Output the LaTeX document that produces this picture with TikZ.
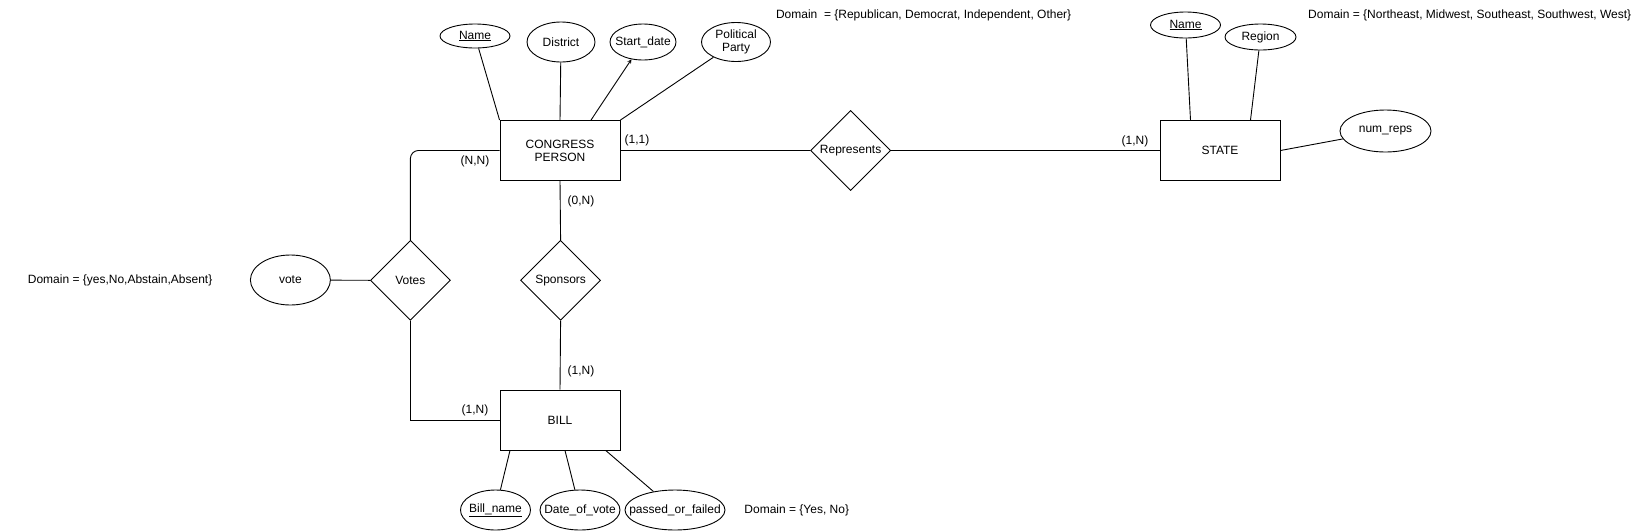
\documentclass[tikz,border=0pt]{standalone}
\usepackage{fontspec}
\setmainfont{Liberation Sans}
\usepackage{tikz}
\usetikzlibrary{shapes.geometric}

\begin{document}
\begin{tikzpicture}[x=1pt, y=-1pt, line width=0.9pt, font=\fontsize{12}{13}\selectfont,
        entity/.style={draw, rectangle, minimum width=120pt, minimum height=60pt, align=center},
        attr/.style 2 args={draw, ellipse, inner ysep=0pt, inner xsep=-11pt, align=center, minimum width=#1, minimum height=#2},
        relation/.style={draw, diamond, aspect=1, inner sep=0pt, minimum width=80pt, minimum height=80pt},
        card/.style={inner sep=0pt},
        note/.style={inner sep=0pt}]

            \useasboundingbox (0,0) rectangle (1636,531);

            \node[entity] (cp) at (560,150.5) {CONGRESS\\PERSON};

            \node[entity] (state) at (1220,150.5) {STATE};

            \node[entity] (bill) at (560,420) {BILL};

            \node[relation] (represents) at (850.6,150.5) {Represents};

            \node[relation] (votes) at (410.4,280.3) {Votes};

            \node[relation] (sponsors) at (560.6,280.3) {Sponsors};

            \node[attr={70pt}{24pt}] (cpname) at (475,36) {\underline{Name}};

            \node[attr={68pt}{40pt}] (district) at (561,42) {District};

            \node[attr={66pt}{36pt}] (startdate) at (643,42) {Start\_date};

            \node[attr={69pt}{39pt}] (party) at (736,42) {Political\\Party};

            \node[attr={70pt}{26pt}] (statename) at (1185.5,25) {\underline{Name}};

            \node[attr={71pt}{26pt}] (region) at (1260.5,37) {Region};

            \node[attr={91pt}{42pt}] (numreps) at (1385.5,131) {num\_reps};

            \node[attr={80pt}{50pt}] (vote) at (290.4,280) {vote};

            \node[attr={70pt}{40pt}] (billname) at (495.5,510) {\underline{Bill\_name}};

            \node[attr={80pt}{40pt}] (datevote) at (580,510) {Date\_of\_vote};

            \node[attr={100pt}{40pt}] (passed) at (675,510) {passed\_or\_failed};

            \node[note, anchor=west] (partydom) at (775.6,15) {Domain \ = \{Republican, Democrat, Independent, Other\}};

            \node[note, anchor=east] (regiondom) at (1631.6,15) {Domain = \{Northeast, Midwest, Southeast, Southwest, West\}};

            \node[note, anchor=west] (votedom) at (27.4,280.7) {Domain = \{yes,No,Abstain,Absent\}};

            \node[note, anchor=west] (passeddom) at (744,510) {Domain = \{Yes, No\}};

            \node[card] (c11) at (637,140) {(1,1)};

            \node[card] (cnn) at (475,161) {(N,N)};

            \node[card] (c0n) at (581,201) {(0,N)};

            \node[card] (c1n) at (581,371) {(1,N)};

            \node[card] (c1nb) at (475,410) {(1,N)};

            \node[card] (c1ns) at (1135,141) {(1,N)};

            \draw (cpname) -- (cp.north west);

            \draw (district) -- (cp.north);

            \draw[-stealth] ([xshift=31pt]cp.north) -- (startdate);

            \draw (party) -- (cp.north east);

            \draw (cp.east) -- (represents.west);

            \draw (represents.east) -- (state.west);

            \draw (statename) -- ([xshift=-29.5pt]state.north);

            \draw (region) -- ([xshift=30.5pt]state.north);

            \draw (state.east) -- (numreps);

            \draw[rounded corners=8pt] (votes.north) |- (cp.west);

            \draw (votes.south) |- (bill.west);

            \draw (vote) -- (votes.west);

            \draw (cp.south) -- (sponsors.north);

            \draw (sponsors.south) -- (bill.north);

            \draw (billname) -- ([xshift=-50pt]bill.south);

            \draw (datevote) -- ([xshift=5pt]bill.south);

            \draw (passed) -- ([xshift=45.7pt]bill.south);

          \end{tikzpicture}
\end{document}
